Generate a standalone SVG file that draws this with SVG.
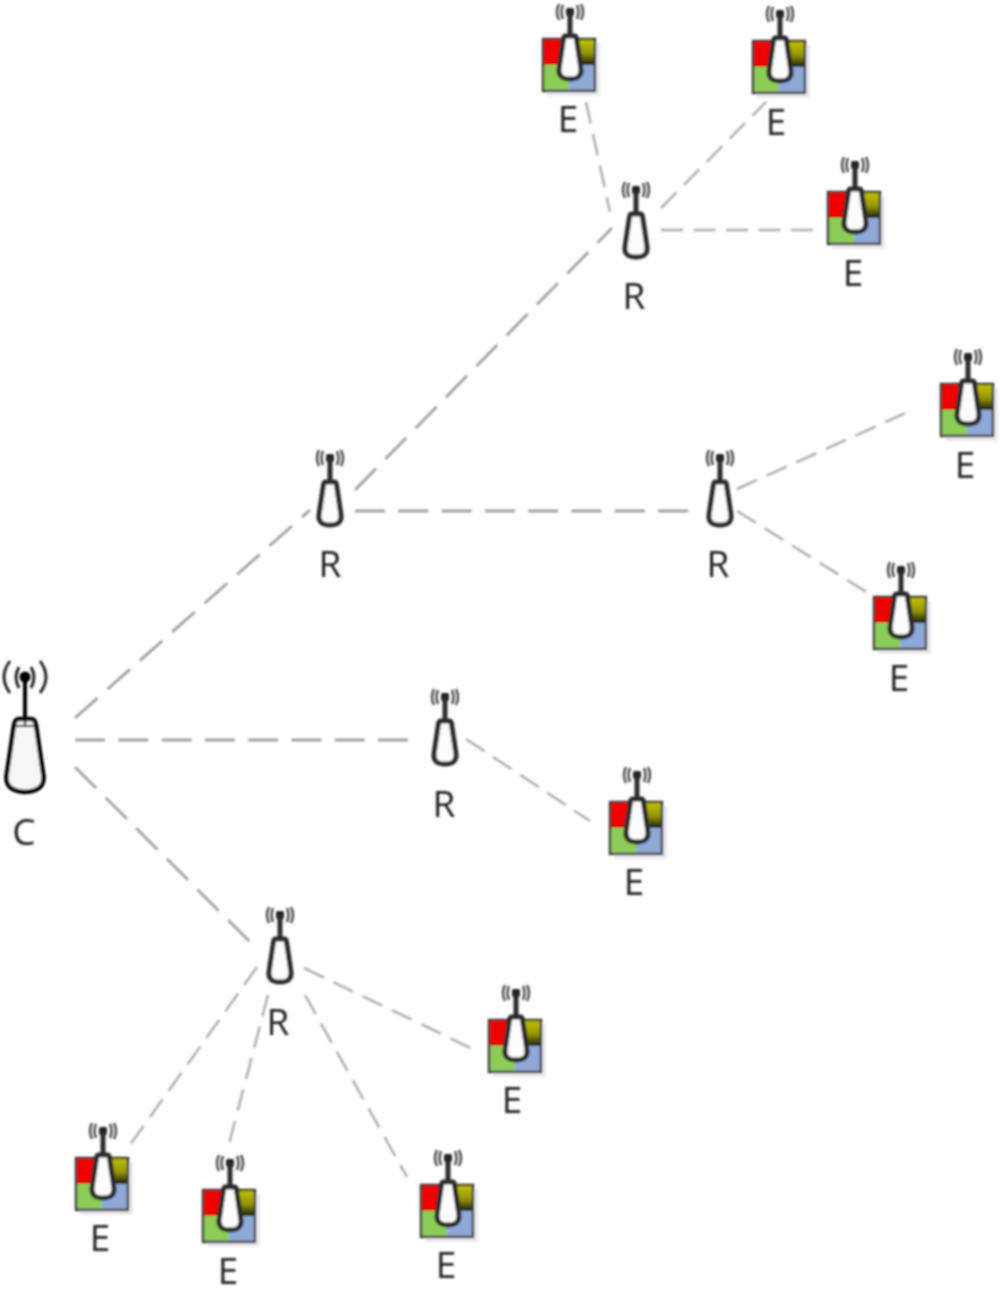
<svg xmlns="http://www.w3.org/2000/svg" width="1000" height="1305" viewBox="0 0 1000 1305">
<style>
.lbl{font-family:"Open Sans","Liberation Sans",sans-serif;font-size:37px;fill:#222;text-anchor:middle}
.main{stroke:#a0a0a0;stroke-width:2.800;stroke-dasharray:30 13.300;fill:none}
.thin{stroke:#aeaeae;stroke-width:2.500;stroke-dasharray:22 10.500;fill:none}
.wave{fill:none;stroke:#555;stroke-width:2.600}
.body{fill:#fcfcfc;stroke:#2c2c2c;stroke-width:5;stroke-linejoin:round}
.node{filter:url(#soft)}
</style>
<defs>
<filter id="soft" x="-20%" y="-20%" width="140%" height="140%"><feGaussianBlur stdDeviation="1"/></filter>
<linearGradient id="olive" x1="0" y1="0" x2="0" y2="1"><stop offset="0" stop-color="#c4c400"/><stop offset="0.55" stop-color="#949400"/><stop offset="1" stop-color="#1c1c00"/></linearGradient>
<g id="ant">
<path class="wave" d="M-7-7Q-10 0-7 7M7-7Q10 0 7 7M-11-8Q-15 0-11 8M11-8Q15 0 11 8"/>
<rect x="-4" y="-4" width="8" height="8" rx="2" fill="#222"/>
<path d="M0 0V24" stroke="#2c2c2c" stroke-width="5"/>
<path class="body" d="M-4.500 24H4.500Q6 24 6.500 27L11 57Q12 67 0 67Q-12 67-11 57L-6.500 27Q-6 24-4.500 24Z"/>
</g>
<g id="eicon">
<rect x="4" y="4" width="53" height="53" fill="#eaeaf0"/>
<rect width="26" height="26" fill="#f00000"/>
<rect x="26" width="26" height="26" fill="url(#olive)"/>
<rect y="26" width="26" height="26" fill="#8ccd58"/>
<rect x="26" y="26" width="26" height="26" fill="#8fa8d8"/>
<rect width="52" height="52" fill="none" stroke="#383838" stroke-width="2.400"/>
<use href="#ant" x="27" y="-27"/>
</g>
</defs>
<g id="connectors" filter="url(#soft)">
<path class="main" d="M75 718L310 510"/>
<path class="main" d="M75 740H408"/>
<path class="main" d="M75 767L250 942"/>
<path class="main" d="M355 490L612 228"/>
<path class="main" d="M355 511H695"/>
<path class="thin" d="M586 102L610 212"/>
<path class="thin" d="M661 208L766 102"/>
<path class="thin" d="M661 230H815"/>
<path class="thin" d="M737 489L910 411"/>
<path class="thin" d="M737 511L868 593"/>
<path class="thin" d="M466 739L590 821"/>
<path class="thin" d="M304 968L475 1050"/>
<path class="thin" d="M305 995L407 1177"/>
<path class="thin" d="M268 995L229 1144"/>
<path class="thin" d="M257 967L130 1145"/>
</g>
<g id="nodeC" class="node">
<path fill="none" stroke="#1a1a1a" stroke-width="2.800" d="M19 667Q13 677 19 688M31 667Q37 677 31 688M10 661Q-2 677 10 693M40 661Q52 677 40 693"/>
<circle cx="25" cy="677" r="5.500" fill="#000"/>
<path d="M25 677V718" stroke="#000" stroke-width="4"/>
<path d="M19 719H31Q35 719 36 725L43.500 776Q45 791 25 792Q5 791 6.500 776L14 725Q15 719 19 719Z" fill="#f6f6f6" stroke="#000" stroke-width="4.500"/>
<path d="M15 726H35M25 719V726" stroke="#000" stroke-width="2.200"/>
<text class="lbl" x="24" y="845">C</text>
</g>
<g id="r1" class="node"><use href="#ant" x="636" y="190"/><text class="lbl" x="634" y="309">R</text></g>
<g id="r2" class="node"><use href="#ant" x="330" y="458"/><text class="lbl" x="330" y="577">R</text></g>
<g id="r3" class="node"><use href="#ant" x="720" y="458"/><text class="lbl" x="718" y="577">R</text></g>
<g id="r4" class="node"><use href="#ant" x="445" y="697"/><text class="lbl" x="444" y="817">R</text></g>
<g id="r5" class="node"><use href="#ant" x="280" y="915"/><text class="lbl" x="278" y="1035">R</text></g>
<g id="e1" class="node"><use href="#eicon" x="543" y="39"/><text class="lbl" x="568" y="132">E</text></g>
<g id="e2" class="node"><use href="#eicon" x="753" y="41"/><text class="lbl" x="776" y="135">E</text></g>
<g id="e3" class="node"><use href="#eicon" x="828" y="192"/><text class="lbl" x="853" y="286">E</text></g>
<g id="e4" class="node"><use href="#eicon" x="941" y="384"/><text class="lbl" x="965" y="478">E</text></g>
<g id="e5" class="node"><use href="#eicon" x="874" y="597"/><text class="lbl" x="899" y="691">E</text></g>
<g id="e6" class="node"><use href="#eicon" x="610" y="802"/><text class="lbl" x="634" y="895">E</text></g>
<g id="e7" class="node"><use href="#eicon" x="489" y="1020"/><text class="lbl" x="512" y="1113">E</text></g>
<g id="e8" class="node"><use href="#eicon" x="421" y="1185"/><text class="lbl" x="446" y="1278">E</text></g>
<g id="e9" class="node"><use href="#eicon" x="203" y="1190"/><text class="lbl" x="228" y="1284">E</text></g>
<g id="e10" class="node"><use href="#eicon" x="76" y="1158"/><text class="lbl" x="100" y="1251">E</text></g>
</svg>
